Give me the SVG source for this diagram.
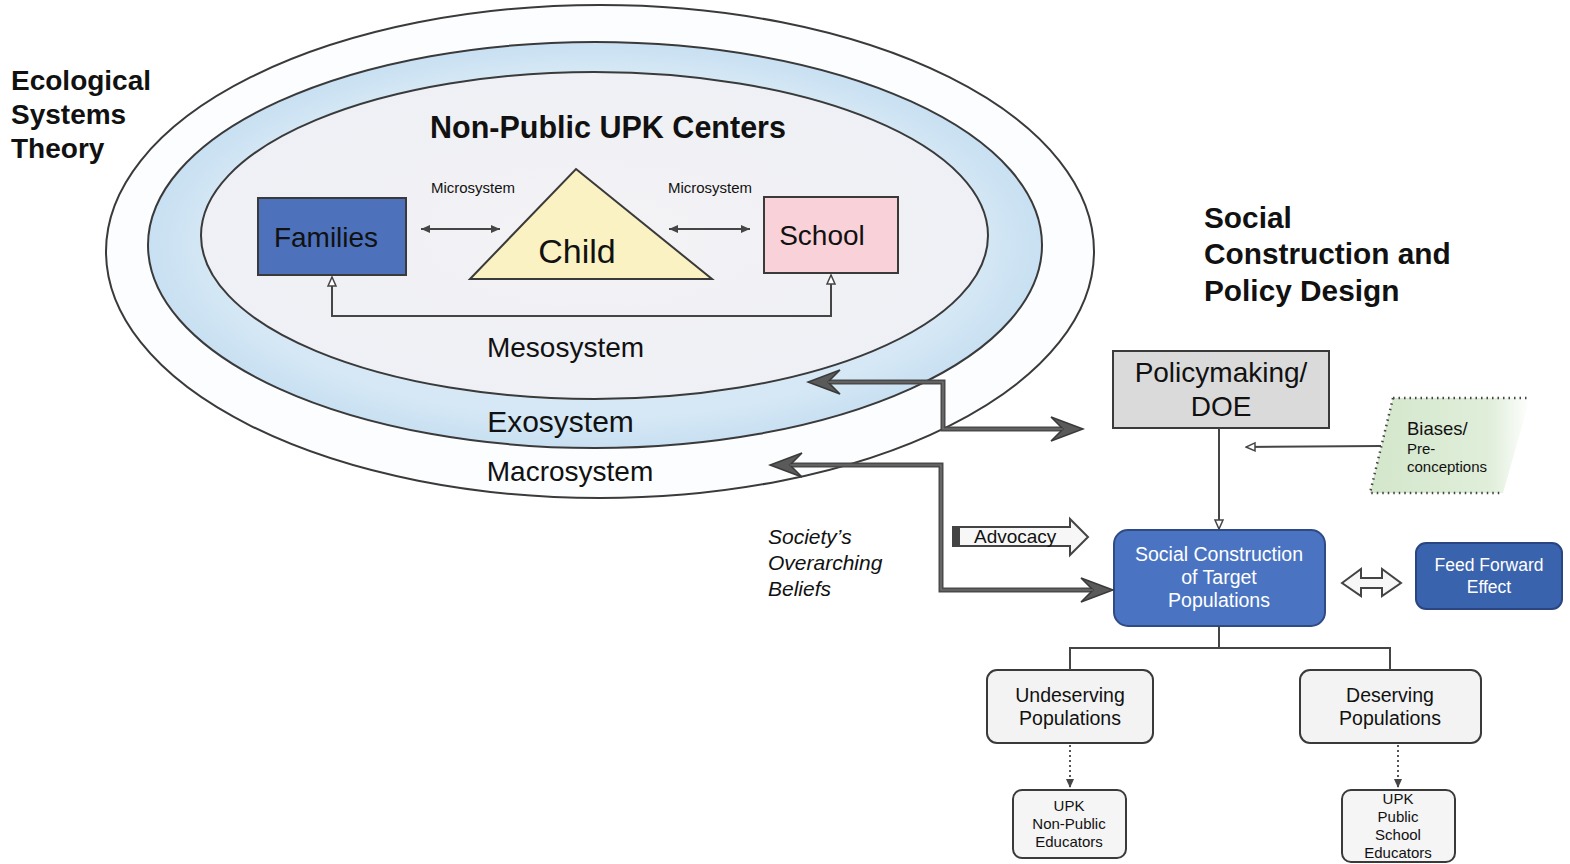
<svg xmlns="http://www.w3.org/2000/svg" width="1570" height="864" viewBox="0 0 1570 864">
<defs>
<style>
text{font-family:"Liberation Sans",Arial,sans-serif;fill:#111}
.b{font-weight:bold}
.ell{stroke:#3a3a3a;stroke-width:2}
.box{stroke:#3a3a3a;stroke-width:2}
.thin{fill:none;stroke:#454545;stroke-width:2}
.thick{fill:none;stroke:#4a4a4a;stroke-width:5}
.thickin{fill:none;stroke:#7a7a7a;stroke-width:1.2}
.dot{fill:none;stroke:#555;stroke-width:2;stroke-dasharray:2 3}
.w{fill:#fff}
</style>
<radialGradient id="gBand" cx="50%" cy="50%" r="50%">
<stop offset="0.85" stop-color="#d6e8f5"/>
<stop offset="1" stop-color="#c8e0f2"/>
</radialGradient>
<radialGradient id="gInner" cx="50%" cy="50%" r="60%">
<stop offset="0" stop-color="#f4f2f5"/>
<stop offset="1" stop-color="#edf0f5"/>
</radialGradient>
<linearGradient id="gBias" x1="0" y1="0" x2="1" y2="0">
<stop offset="0" stop-color="#d3e7cb"/>
<stop offset="0.75" stop-color="#e0eeda"/>
<stop offset="1" stop-color="#ffffff"/>
</linearGradient>
<marker id="big" markerUnits="userSpaceOnUse" viewBox="-34 -15 36 30" markerWidth="36" markerHeight="30" refX="-20" refY="0" orient="auto-start-reverse">
<path d="M0,0 L-32,-12 L-20,0 L-32,12 Z" fill="#5a5a5a" stroke="#3a3a3a" stroke-width="1.5" stroke-linejoin="miter"/>
</marker>
<marker id="sm" markerUnits="userSpaceOnUse" viewBox="-10 -5 11 10" markerWidth="11" markerHeight="10" refX="0" refY="0" orient="auto-start-reverse">
<path d="M0,0 L-9,-4 L-9,4 Z" fill="#454545"/>
</marker>
<marker id="open" markerUnits="userSpaceOnUse" viewBox="-10 -6 11 12" markerWidth="11" markerHeight="12" refX="0" refY="0" orient="auto-start-reverse">
<path d="M0,0 L-9,-4 L-9,4 Z" fill="#fff" stroke="#454545" stroke-width="1.5"/>
</marker>
</defs>
<rect width="1570" height="864" fill="#fff"/>

<g id="ecological-systems">
<ellipse class="ell" cx="600" cy="251.5" rx="494" ry="246.5" fill="#fcfdfe"/>
<ellipse class="ell" cx="595" cy="245" rx="447" ry="203" fill="url(#gBand)"/>
<ellipse class="ell" cx="594.5" cy="235.5" rx="393.5" ry="163.5" fill="url(#gInner)"/>
<text x="608" y="138" font-size="30.5" class="b" text-anchor="middle">Non-Public UPK Centers</text>
<text x="565.5" y="357" font-size="28" text-anchor="middle">Mesosystem</text>
<text x="560.5" y="432" font-size="30" text-anchor="middle">Exosystem</text>
<text x="570" y="481" font-size="28" text-anchor="middle">Macrosystem</text>
</g>

<g id="title-left">
<text x="11" y="90" font-size="28" class="b">Ecological</text>
<text x="11" y="124" font-size="28" class="b">Systems</text>
<text x="11" y="158" font-size="28" class="b">Theory</text>
</g>

<g id="title-right">
<text x="1204" y="228" font-size="29.8" class="b">Social</text>
<text x="1204" y="264" font-size="29.8" class="b">Construction and</text>
<text x="1204" y="301" font-size="29.8" class="b">Policy Design</text>
</g>

<g id="families">
<rect class="box" x="258" y="198" width="148" height="77" fill="#4d71bb"/>
<text x="326" y="247" font-size="28" text-anchor="middle">Families</text>
</g>

<g id="child">
<polygon class="box" points="576,169 712,279 470,279" fill="#fbf2c3"/>
<text x="577" y="263" font-size="34" text-anchor="middle">Child</text>
</g>

<g id="school">
<rect class="box" x="764" y="197" width="134" height="76" fill="#f8d2d8"/>
<text x="822" y="245" font-size="28" text-anchor="middle">School</text>
</g>

<g id="microsystem-labels">
<text x="473" y="193" font-size="15" text-anchor="middle">Microsystem</text>
<text x="710" y="193" font-size="15" text-anchor="middle">Microsystem</text>
</g>

<g id="policymaking">
<rect class="box" x="1113" y="351" width="216" height="77" fill="#dadada"/>
<text x="1221" y="382" font-size="28" text-anchor="middle">Policymaking/</text>
<text x="1221" y="416" font-size="28" text-anchor="middle">DOE</text>
</g>

<g id="biases">
<polygon points="1393,398 1530,398 1503,493 1370,493" fill="url(#gBias)"/>
<path d="M1393,398 H1530 M1393,398 L1370,493 H1503" fill="none" stroke="#444" stroke-width="2.5" stroke-dasharray="1.5 4"/>
<text x="1407" y="435" font-size="18.5">Biases/</text>
<text x="1407" y="454" font-size="15">Pre-</text>
<text x="1407" y="472" font-size="15">conceptions</text>
</g>

<g id="social-construction">
<rect x="1114" y="530" width="211" height="96" rx="14" fill="#4a74c2" stroke="#2f4a85" stroke-width="2"/>
<text x="1219" y="561" font-size="19.5" text-anchor="middle" class="w">Social Construction</text>
<text x="1219" y="584" font-size="19.5" text-anchor="middle" class="w">of Target</text>
<text x="1219" y="607" font-size="19.5" text-anchor="middle" class="w">Populations</text>
</g>

<g id="feed-forward">
<rect x="1416" y="543" width="146" height="66" rx="10" fill="#3a63ae" stroke="#2a4582" stroke-width="2"/>
<text x="1489" y="571" font-size="17.5" text-anchor="middle" class="w">Feed Forward</text>
<text x="1489" y="593" font-size="17.5" text-anchor="middle" class="w">Effect</text>
</g>

<g id="undeserving">
<rect class="box" x="987" y="670" width="166" height="73" rx="10" fill="#f3f3f3"/>
<text x="1070" y="702" font-size="19.5" text-anchor="middle">Undeserving</text>
<text x="1070" y="725" font-size="19.5" text-anchor="middle">Populations</text>
</g>

<g id="deserving">
<rect class="box" x="1300" y="670" width="181" height="73" rx="10" fill="#f3f3f3"/>
<text x="1390" y="702" font-size="19.5" text-anchor="middle">Deserving</text>
<text x="1390" y="725" font-size="19.5" text-anchor="middle">Populations</text>
</g>

<g id="upk-non-public">
<rect class="box" x="1013" y="790" width="113" height="68" rx="9" fill="#f5f5f5"/>
<text x="1069" y="811" font-size="15" text-anchor="middle">UPK</text>
<text x="1069" y="829" font-size="15" text-anchor="middle">Non-Public</text>
<text x="1069" y="847" font-size="15" text-anchor="middle">Educators</text>
</g>

<g id="upk-public">
<rect class="box" x="1342" y="790" width="113" height="72" rx="9" fill="#f5f5f5"/>
<text x="1398" y="804" font-size="15" text-anchor="middle">UPK</text>
<text x="1398" y="822" font-size="15" text-anchor="middle">Public</text>
<text x="1398" y="840" font-size="15" text-anchor="middle">School</text>
<text x="1398" y="858" font-size="15" text-anchor="middle">Educators</text>
</g>

<g id="society-beliefs">
<text x="768" y="544" font-size="21" font-style="italic">Society’s</text>
<text x="768" y="570" font-size="21" font-style="italic">Overarching</text>
<text x="768" y="596" font-size="21" font-style="italic">Beliefs</text>
</g>

<g id="connectors">
<path class="thin" d="M421,229 H500" marker-start="url(#sm)" marker-end="url(#sm)"/>
<path class="thin" d="M669,229 H750" marker-start="url(#sm)" marker-end="url(#sm)"/>
<path class="thin" d="M332,277 V316 H831 V275" marker-start="url(#open)" marker-end="url(#open)"/>
<path class="thick" d="M828,382 H943 V429 H1063" marker-start="url(#big)" marker-end="url(#big)"/>
<path class="thickin" d="M828,382 H943 V429 H1063"/>
<path class="thick" d="M790,465 H941 V590 H1093" marker-start="url(#big)" marker-end="url(#big)"/>
<path class="thickin" d="M790,465 H941 V590 H1093"/>
<g id="advocacy">
<polygon points="953,527 1070,527 1070,519 1088,537 1070,555 1070,546 953,546" fill="#f7f7f7" stroke="#444" stroke-width="2"/>
<rect x="953" y="527" width="7" height="19" fill="#444"/>
<text x="974" y="543" font-size="19">Advocacy</text>
</g>
<path class="thin" d="M1219,428 V529" marker-end="url(#open)"/>
<path class="thin" d="M1381,446 L1246,447" stroke-width="2.5" marker-end="url(#open)"/>
<polygon points="1342,583 1361,569 1361,578 1382,578 1382,569 1401,583 1382,596 1382,588 1361,588 1361,596" fill="#f7f7f7" stroke="#444" stroke-width="2"/>
<path class="thin" d="M1219,626 V648 M1070,670 V648 H1390 V670"/>
<path class="dot" d="M1070,745 V788" marker-end="url(#sm)"/>
<path class="dot" d="M1398,745 V788" marker-end="url(#sm)"/>
</g>
</svg>
